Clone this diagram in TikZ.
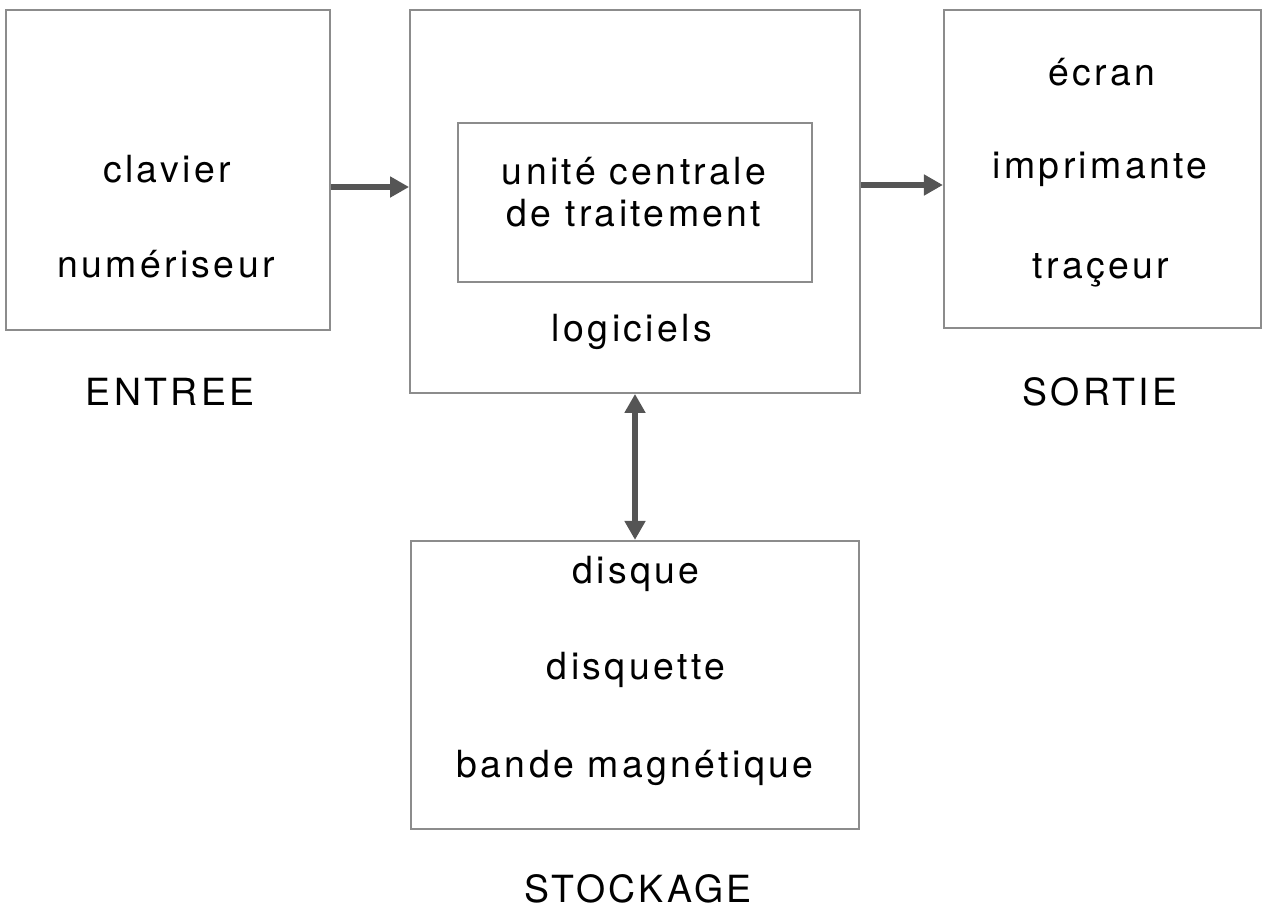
\documentclass[tikz,border=0pt]{standalone}
\usepackage{fontspec}
\setmainfont{TeX Gyre Heros}[LetterSpace=9]
\usetikzlibrary{positioning,arrows.meta}
\definecolor{boxgray}{HTML}{8C8C8C}
\definecolor{arrowgray}{HTML}{555555}

\begin{document}
\begin{tikzpicture}[x=0.02cm, y=-0.02cm,
    box/.style={draw=boxgray, line width=1.1pt, inner sep=0pt},
    txt/.style={anchor=base, inner sep=0pt, font=\fontsize{21.3pt}{25pt}\selectfont},
    flow/.style={draw=arrowgray, line width=3.4pt, -{Triangle[length=0.38cm,width=0.4cm]}},
    dflow/.style={draw=arrowgray, line width=3.4pt, {Triangle[length=0.38cm,width=0.4cm]}-{Triangle[length=0.38cm,width=0.4cm]}}]

        \useasboundingbox (0,0) rectangle (1263,909);

        % Boxes
        \node[box, minimum width=9cm, minimum height=7.66cm] (cpu) at (635,201.5) {};
        \node[box, minimum width=7.08cm, minimum height=3.18cm] (ucentrale) at (635,202.5) {};
        \node[box, minimum width=6.48cm, minimum height=6.4cm, left=1.56cm of cpu.north west, anchor=north east] (entree) {};
        \node[box, minimum width=6.34cm, minimum height=6.36cm, right=1.64cm of cpu.north east, anchor=north west] (sortie) {};
        \node[box, minimum width=8.96cm, minimum height=5.76cm, below=2.92cm of cpu] (stockage) {};

        % Texts in the boxes
        \node[txt] (clavier) at (167,182) {clavier};
        \node[txt] (numeriseur) at (166,277) {numériseur};
        \node[txt] (uc1) at (634,184) {unité centrale};
        \node[txt] (uc2) at (634,226) {de traitement};
        \node[txt] (logiciels) at (632,341) {logiciels};
        \node[txt] (ecran) at (1102,86) {écran};
        \node[txt] (imprimante) at (1100,178) {imprimante};
        \node[txt] (traceur) at (1101,278) {traçeur};
        \node[txt] (disque) at (636,583) {disque};
        \node[txt] (disquette) at (636,679) {disquette};
        \node[txt] (bande) at (635,777) {bande magnétique};

        % Labels
        \node[txt] (lentree) at (170,405) {ENTREE};
        \node[txt] (lsortie) at (1100,405) {SORTIE};
        \node[txt] (lstockage) at (638,902) {STOCKAGE};

        % Connections
        \coordinate (arrin) at ([yshift=-0.34cm]entree.east);
        \coordinate (arrout) at ([yshift=-0.32cm]sortie.west);
        \draw[flow] (arrin) -- (arrin -| cpu.west);
        \draw[flow] (arrout -| cpu.east) -- (arrout);
        \draw[dflow] (cpu.south) -- (cpu.south |- stockage.north);

    \end{tikzpicture}
\end{document}
